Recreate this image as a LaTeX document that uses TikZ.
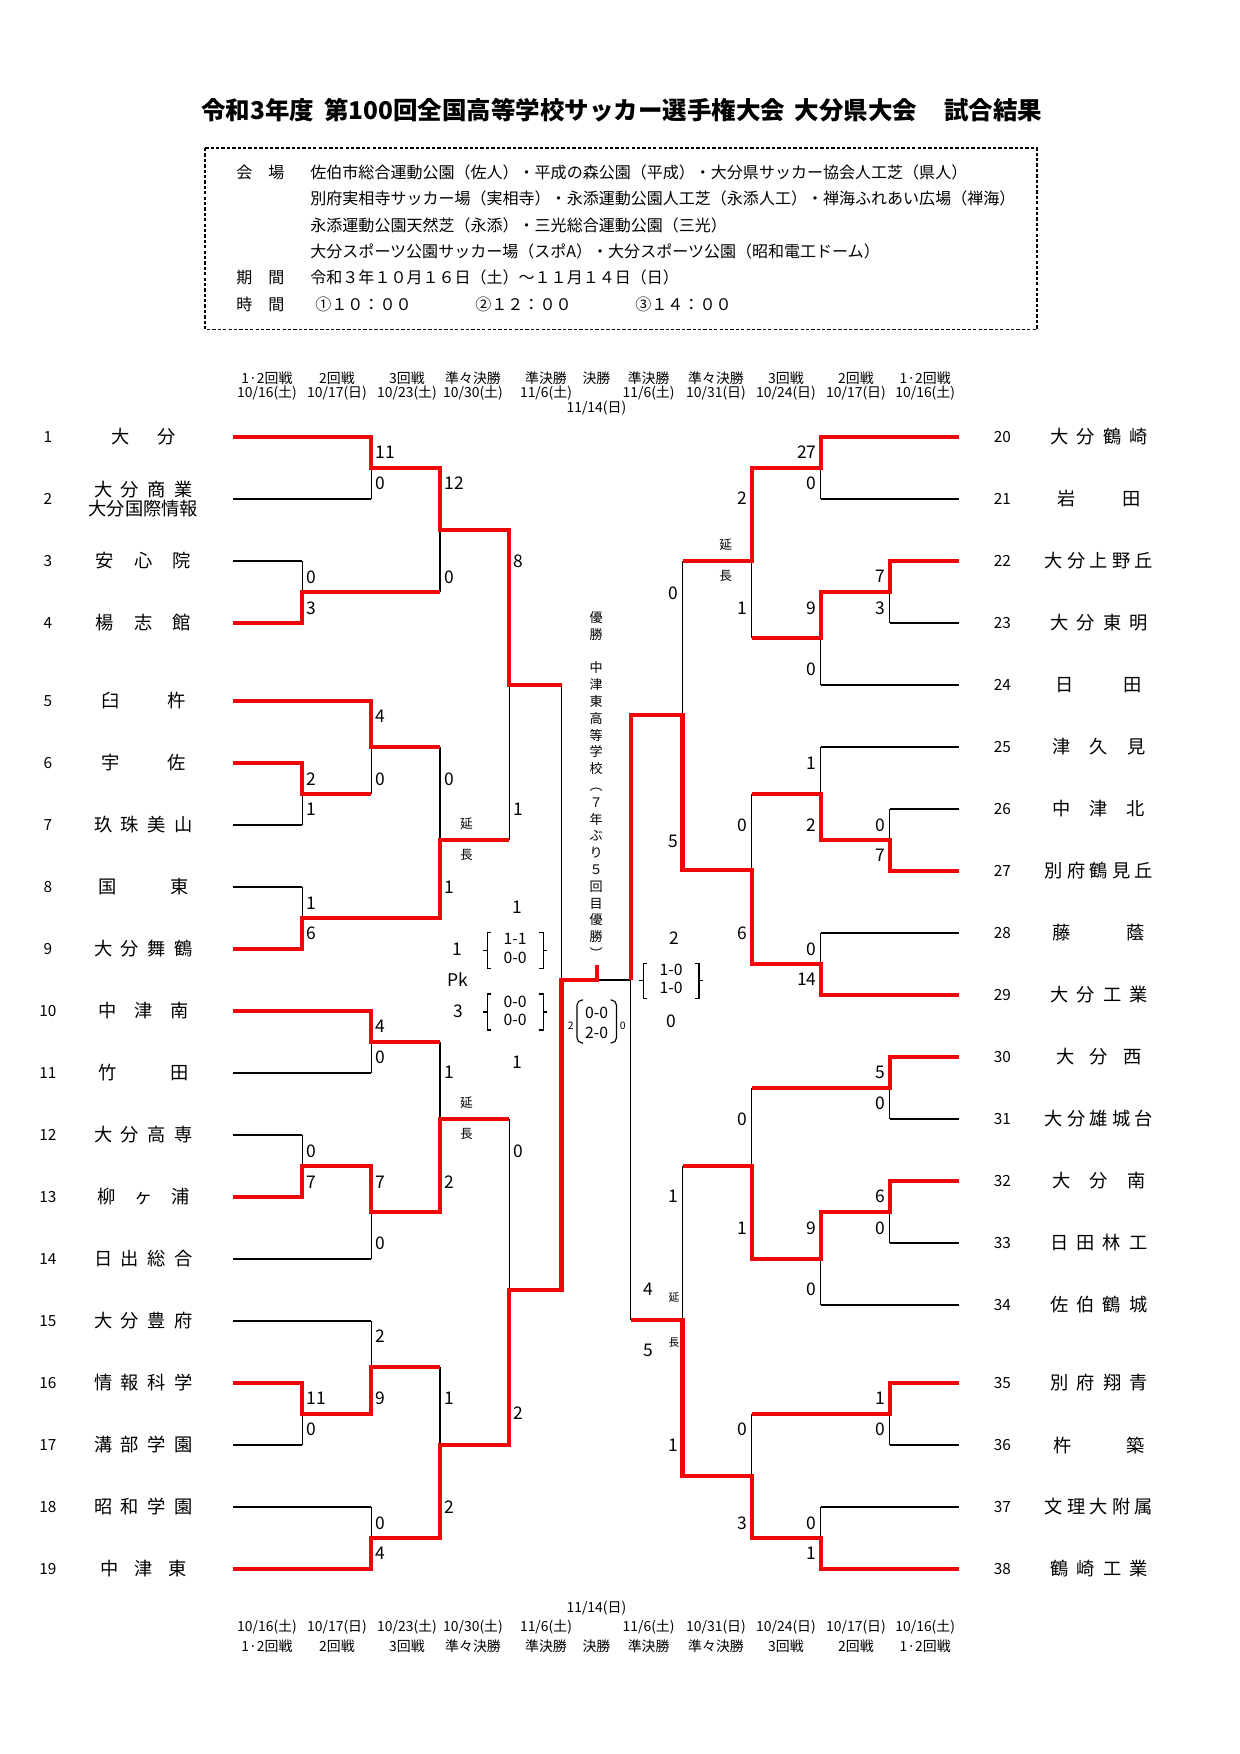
\documentclass[tikz,border=0pt]{standalone}
\usepackage{fontspec}
\setmainfont{Noto Sans CJK JP}
\definecolor{tred}{RGB}{240,8,8}
\tikzset{
  lose/.style={draw=black,line width=0.55pt},
  win/.style={draw=tred,line width=2.1pt,line join=miter},
  team/.style={inner sep=0pt,font=\fontsize{8.8}{10.5}\selectfont},
  seed/.style={inner sep=0pt,font=\fontsize{7.4}{9}\selectfont},
  lsc/.style={anchor=west,inner sep=0pt,font=\fontsize{8.4}{10}\selectfont},
  rsc/.style={anchor=east,inner sep=0pt,font=\fontsize{8.4}{10}\selectfont},
  sc/.style={inner sep=0pt,font=\fontsize{8.4}{10}\selectfont},
  half/.style={inner sep=0pt,font=\fontsize{7.6}{9}\selectfont},
  hd/.style={inner sep=0pt,font=\fontsize{6.7}{8}\selectfont},
  ext/.style={inner sep=0pt,font=\fontsize{6.1}{7}\selectfont},
  info/.style={anchor=west,inner sep=0pt,font=\fontsize{7.72}{9}\selectfont},
}
% spread the characters of a school name over a fixed width
\def\spreadi#1{\ifx\relax#1\else#1\expandafter\spreadj\fi}
\def\spreadj#1{\ifx\relax#1\else\hfill#1\expandafter\spreadj\fi}
\newcommand\nm[2]{\makebox[#1][s]{\expandafter\spreadi#2\relax}}
% score bracket { a / b }
\newcommand\pkbrace[4]{%
  \draw[lose] (#1+4,#3) -- (#1,#3) -- (#1,#4) -- (#1+4,#4)
    (#1,{(#3+#4)/2}) -- (#1-4,{(#3+#4)/2});
  \draw[lose] (#2-4,#3) -- (#2,#3) -- (#2,#4) -- (#2-4,#4)
    (#2,{(#3+#4)/2}) -- (#2+4,{(#3+#4)/2});}

\begin{document}
\begin{tikzpicture}[x=0.16935mm,y=-0.16935mm]
\useasboundingbox (0,0) rectangle (1240,1754);
\def\cA{232.9}\def\cB{302.1}\def\cC{371.1}\def\cD{440}\def\cE{509.3}\def\cF{561.5}
\def\dA{958.9}\def\dB{889.7}\def\dC{820.9}\def\dD{751.7}\def\dE{682.6}\def\dF{630.7}

% title and info box
\node[inner sep=0pt,font=\fontsize{11.8}{14}\selectfont\bfseries] (title) at (621.9,110)
  {令和3年度\hspace{0.4em}第100回全国高等学校サッカー選手権大会\hspace{0.4em}大分県大会\hspace{1.1em}試合結果};
\draw[line width=0.5pt,dash pattern=on 1.6pt off 1pt] (205,148) rectangle (1037,329.5);
\node[info] (k1) at (236,172.5) {会　場};
\node[info] (v1) at (310,172.5) {佐伯市総合運動公園（佐人）・平成の森公園（平成）・大分県サッカー協会人工芝（県人）};
\node[info] (v2) at (310,198.8) {別府実相寺サッカー場（実相寺）・永添運動公園人工芝（永添人工）・禅海ふれあい広場（禅海）};
\node[info] (v3) at (310,225.1) {永添運動公園天然芝（永添）・三光総合運動公園（三光）};
\node[info] (v4) at (310,251.4) {大分スポーツ公園サッカー場（スポA）・大分スポーツ公園（昭和電工ドーム）};
\node[info] (k2) at (236,277.7) {期　間};
\node[info] (v5) at (310,277.7) {令和３年１０月１６日（土）～１１月１４日（日）};
\node[info] (k3) at (236,304) {時　間};
\node[info] (v6) at (315,304) {①１０：００};
\node[info] (v7) at (475,304) {②１２：００};
\node[info] (v8) at (635,304) {③１４：００};

% round headers, top and bottom
\foreach \x/\r/\d [count=\k] in {267/{1·2回戦}/{10/16(土)},337/{2回戦}/{10/17(日)},407/{3回戦}/{10/23(土)},
    473/{準々決勝}/{10/30(土)},546/{準決勝}/{11/6(土)},648.6/{準決勝}/{11/6(土)},716/{準々決勝}/{10/31(日)},
    786/{3回戦}/{10/24(日)},856/{2回戦}/{10/17(日)},925.2/{1·2回戦}/{10/16(土)}}{
  \node[hd] (hr\k) at (\x,378.3) {\r};
  \node[hd] (hd\k) at (\x,393.3) {\d};
  \node[hd] (fd\k) at (\x,1627) {\d};
  \node[hd] (fr\k) at (\x,1646) {\r};
}
\node[hd] (hrf) at (596.4,378.3) {決勝};
\node[hd] (hdf) at (596.4,408.3) {11/14(日)};
\node[hd] (fdf) at (596.4,1608) {11/14(日)};
\node[hd] (frf) at (596.4,1646) {決勝};

% left teams
\foreach \n/\y/\e/\w/\s in {1/437/\cC/10.8mm/大分,3/561/\cB/16.1mm/安心院,4/623/\cB/16.1mm/楊志館,
    5/701/\cC/14.2mm/臼杵,6/763/\cB/14.2mm/宇佐,7/825/\cB/16.6mm/玖珠美山,8/887/\cB/15.3mm/国東,
    9/949/\cB/16.6mm/大分舞鶴,10/1011/\cC/15.2mm/中津南,11/1073/\cC/15.2mm/竹田,12/1135/\cB/16.6mm/大分高専,
    13/1197/\cB/15.6mm/柳ヶ浦,14/1259/\cC/16.6mm/日出総合,15/1321/\cC/16.6mm/大分豊府,
    16/1383/\cB/16.6mm/情報科学,17/1445/\cB/16.6mm/溝部学園,18/1507/\cC/16.6mm/昭和学園,
    19/1569/\cC/14.6mm/中津東}{
  \node[seed] (n\n) at (48,\y) {\n};
  \node[team] (t\n) at (143.4,\y) {\nm{\w}{\s}};
  \draw[lose] (\cA,\y) -- (\e,\y);
}
\node[seed] (n2) at (48,499) {2};
\node[team] (t2) at (143.4,490) {\nm{16.6mm}{大分商業}};
\node[team] (t2b) at (143.4,508.3) {大分国際情報};
\draw[lose] (\cA,499) -- (\cC,499);

% right teams
\foreach \n/\y/\e/\w/\s in {20/437/\dC/16.6mm/大分鶴崎,21/499/\dC/14.1mm/岩田,22/561/\dB/18.3mm/大分上野丘,
    23/623/\dB/16.6mm/大分東明,24/685/\dC/14.6mm/日田,25/747/\dC/15.7mm/津久見,26/809/\dB/15.6mm/中津北,
    27/871/\dB/18.3mm/別府鶴見丘,28/933/\dC/15.6mm/藤蔭,29/995/\dC/16.6mm/大分工業,30/1057/\dB/14.4mm/大分西,
    31/1119/\dB/18.3mm/大分雄城台,32/1181/\dB/15.7mm/大分南,33/1243/\dB/16.4mm/日田林工,
    34/1305/\dC/16.4mm/佐伯鶴城,35/1383/\dB/16.6mm/別府翔青,36/1445/\dB/15.4mm/杵築,
    37/1507/\dC/18.3mm/文理大附属,38/1569/\dC/16.6mm/鶴崎工業}{
  \node[seed] (n\n) at (1002.4,\y) {\n};
  \node[team] (t\n) at (1099,\y) {\nm{\w}{\s}};
  \draw[lose] (\dA,\y) -- (\e,\y);
}

% bracket verticals
\foreach \x/\a/\b in {\cB/561/623,\cB/763/825,\cB/887/949,\cB/1135/1197,\cB/1383/1445,
    \cC/437/499,\cC/701/794,\cC/1011/1073,\cC/1166/1259,\cC/1321/1414,\cC/1507/1569,
    \cD/468/592,\cD/747/918,\cD/1042/1212,\cD/1367/1538,\cE/530/840,\cE/1119/1445,\cF/685/1290,
    \dB/561/623,\dB/809/871,\dB/1057/1119,\dB/1181/1243,\dB/1383/1445,
    \dC/437/499,\dC/592/685,\dC/747/840,\dC/933/995,\dC/1212/1305,\dC/1507/1569,
    \dD/468/638,\dD/794/964,\dD/1088/1259,\dD/1414/1538,\dE/561/870,\dE/1166/1476,\dF/715/1320}
  \draw[lose] (\x,\a) -- (\x,\b);
\draw[lose] (596.7,980) -- (\dF,980);

% winners, left
\draw[win] (\cA,437) -| (\cC,468) -| (\cD,530) -| (\cE,685) -- (\cF,685);
\draw[win] (\cA,623) -| (\cB,592) -- (\cD,592);
\draw[win] (\cA,701) -| (\cC,747) -- (\cD,747);
\draw[win] (\cA,763) -| (\cB,794) -- (\cC,794);
\draw[win] (\cA,949) -| (\cB,918) -| (\cD,840) -- (\cE,840);
\draw[win] (\cA,1011) -| (\cC,1042) -- (\cD,1042);
\draw[win] (\cA,1197) -| (\cB,1166) -| (\cC,1212) -| (\cD,1119) -- (\cE,1119);
\draw[win] (\cA,1383) -| (\cB,1414) -| (\cC,1367) -- (\cD,1367);
\draw[win] (\cA,1569) -| (\cC,1538) -| (\cD,1445) -| (\cE,1290) -| (\cF,980) -| (596.7,965);
% winners, right
\draw[win] (\dA,437) -| (\dC,468) -| (\dD,561) -- (\dE,561);
\draw[win] (\dA,561) -| (\dB,592) -| (\dC,638) -- (\dD,638);
\draw[win] (\dA,871) -| (\dB,840) -| (\dC,794) -- (\dD,794);
\draw[win] (\dA,995) -| (\dC,964) -| (\dD,870) -| (\dE,715) -| (\dF,980);
\draw[win] (\dA,1057) -| (\dB,1088) -- (\dD,1088);
\draw[win] (\dA,1181) -| (\dB,1212) -| (\dC,1259) -| (\dD,1166) -- (\dE,1166);
\draw[win] (\dA,1383) -| (\dB,1414) -- (\dD,1414);
\draw[win] (\dA,1569) -| (\dC,1538) -| (\dD,1476) -| (\dE,1320) -- (\dF,1320);

% scores, left
\foreach \x/\y/\s [count=\k] in {\cB/577/0,\cB/608/3,\cB/779/2,\cB/809/1,\cB/903/1,\cB/933/6,
    \cB/1151/0,\cB/1182/7,\cB/1398/11,\cB/1429/0,
    \cC/452/11,\cC/483/0,\cC/716/4,\cC/779/0,\cC/1026/4,\cC/1057/0,\cC/1182/7,\cC/1243/0,
    \cC/1336/2,\cC/1398/9,\cC/1523/0,\cC/1553/4,
    \cD/483/12,\cD/577/0,\cD/779/0,\cD/887/1,\cD/1072/1,\cD/1182/2,\cD/1398/1,\cD/1507/2,
    \cE/561/8,\cE/809/1,\cE/1151/0,\cE/1413/2}
  \node[lsc] (ls\k) at (\x+4,\y) {\s};
% scores, right
\foreach \x/\y/\s [count=\k] in {\dB/576/7,\dB/608/3,\dB/825/0,\dB/855/7,\dB/1072/5,\dB/1103/0,
    \dB/1196/6,\dB/1228/0,\dB/1398/1,\dB/1429/0,
    \dC/452/27,\dC/483/0,\dC/608/9,\dC/669/0,\dC/763/1,\dC/825/2,\dC/949/0,\dC/979/14,
    \dC/1228/9,\dC/1289/0,\dC/1523/0,\dC/1553/1,
    \dD/498/2,\dD/608/1,\dD/825/0,\dD/933/6,\dD/1119/0,\dD/1228/1,\dD/1429/0,\dD/1523/3,
    \dE/593/0,\dE/841/5,\dE/1196/1,\dE/1445/1}
  \node[rsc] (rs\k) at (\x-4,\y) {\s};

% extra time marks
\foreach \x/\y [count=\k] in {466.4/824,466.4/1103,725.8/545}{
  \node[ext] (en\k) at (\x,\y) {延};
  \node[ext] (ch\k) at (\x,\y+31) {長};
}
\node[ext,font=\fontsize{5.2}{6}\selectfont] (en4) at (674,1297) {延};
\node[ext,font=\fontsize{5.2}{6}\selectfont] (ch4) at (674,1343) {長};
\node[sc] (q1) at (648.4,1289) {4};
\node[sc] (q2) at (648.4,1350.5) {5};

% semi-finals
\node[sc] (sl1) at (517.5,907.7) {1};
\node[sc] (sl2) at (517.5,1062.3) {1};
\node[sc] (pk1) at (457,949) {1};
\node[sc] (pk) at (458,979.3) {Pk};
\node[sc] (pk2) at (458,1011) {3};
\pkbrace{487.1}{543.2}{932.3}{968.3}
\node[half] (h1) at (515.2,939.3) {1-1};
\node[half] (h2) at (515.2,957.7) {0-0};
\pkbrace{487.1}{543.2}{994}{1030}
\node[half] (h3) at (515.2,1001.7) {0-0};
\node[half] (h4) at (515.2,1020) {0-0};
\node[sc] (sr1) at (674.3,938.3) {2};
\node[sc] (sr2) at (671.7,1021.7) {0};
\pkbrace{643.3}{699}{963.3}{998.3}
\node[half] (h5) at (671.2,970) {1-0};
\node[half] (h6) at (671.2,988.3) {1-0};

% final
\draw[lose,rounded corners=2.5pt] (583,1000) -- (577,1000) -- (577,1043) -- (583,1043);
\draw[lose,rounded corners=2.5pt] (610.5,1000) -- (616.5,1000) -- (616.5,1043) -- (610.5,1043);
\node[half] (f1) at (596.7,1013.3) {0-0};
\node[half] (f2) at (596.7,1033.3) {2-0};
\node[ext,font=\fontsize{5}{6}\selectfont] (fl) at (570.7,1026) {2};
\node[ext,font=\fontsize{5}{6}\selectfont] (fr) at (622.7,1026) {0};
\node[inner sep=0pt,anchor=north,align=center,font=\fontsize{6.3}{8.1}\selectfont] (champ) at (596.2,611)
  {優\\勝\\ \\中\\津\\東\\高\\等\\学\\校\\︵\\７\\年\\ぶ\\り\\５\\回\\目\\優\\勝\\︶};
\end{tikzpicture}
\end{document}
